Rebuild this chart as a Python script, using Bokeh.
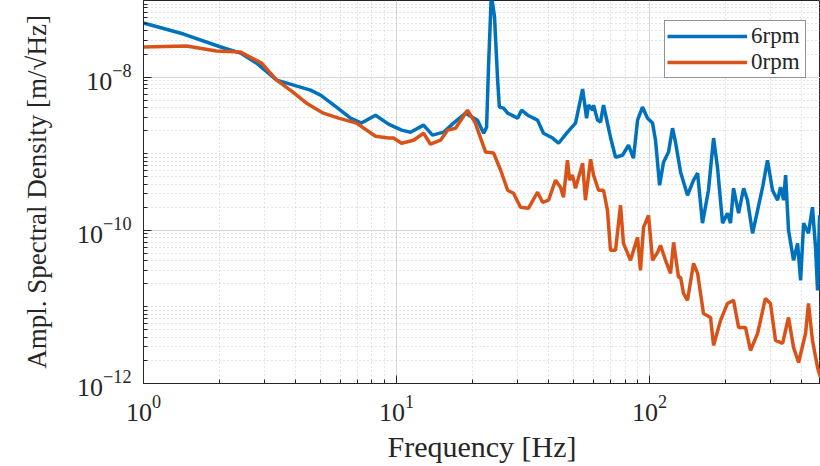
from bokeh.plotting import figure
from bokeh.models import Range1d, FixedTicker, Legend, LegendItem
from bokeh.embed import file_html
from bokeh.resources import INLINE

# ---- data ----
freq_6rpm = [1.0, 1.44, 2.02, 2.42, 2.80, 3.36, 3.92, 4.57, 5.01, 5.79, 6.58, 7.27, 8.26, 9.30,
             10.47, 11.36, 12.79, 13.87, 15.34, 16.80, 18.75, 20.9, 22.1, 22.7, 23.1, 23.7, 24.4,
             25.1, 25.5, 26.5, 27.5, 30.1, 31.2, 33.0, 36.1, 38.1, 41.4, 43.7, 47.4, 51.0, 54.4,
             56.4, 57.4, 59.6, 60.1, 62.3, 64.0, 65.8, 70.1, 73.4, 78.2, 82.6, 86.4, 89.7, 93.8,
             98.2, 102.8, 105.6, 109.6, 113.6, 118.9, 123.3, 126.7, 132.7, 141.3, 149.3, 154.9,
             161.9, 171.0, 179.1, 185.6, 194.4, 203.3, 209.0, 214.8, 224.9, 235.5, 243.9, 255.4,
             267.4, 279.9, 292.6, 306.3, 320.7, 329.6, 338.8, 345.1, 354.3, 370.9, 384.8, 395.5,
             406.5, 424.8, 440.6, 453.0, 461.4, 469.9]
asd_6rpm = [5.08e-8, 3.65e-8, 2.47e-8, 2.06e-8, 1.52e-8, 9.14e-9, 7.86e-9, 6.76e-9, 5.82e-9, 4.06e-9,
            2.91e-9, 2.51e-9, 3.18e-9, 2.43e-9, 2.03e-9, 1.91e-9, 2.36e-9, 1.75e-9, 1.91e-9, 2.51e-9,
            3.38e-9, 2.74e-9, 1.85e-9, 2.22e-9, 1.35e-8, 1.2e-7, 6.08e-8, 9.14e-9, 4.06e-9, 3.94e-9,
            3.38e-9, 2.91e-9, 3.70e-9, 3.18e-9, 2.74e-9, 1.85e-9, 1.60e-9, 1.37e-9, 1.91e-9, 2.51e-9,
            6.97e-9, 2.91e-9, 4.31e-9, 3.70e-9, 4.31e-9, 2.74e-9, 2.58e-9, 4.31e-9, 1.64e-9, 9.0e-10,
            9.55e-10, 1.29e-9, 8.73e-10, 2.74e-9, 4.06e-9, 2.91e-9, 2.51e-9, 1.50e-9, 3.87e-10, 7.74e-10,
            1.05e-9, 2.15e-9, 1.41e-9, 5.73e-10, 2.87e-10, 4.51e-10, 5.56e-10, 1.24e-10, 3.33e-10, 1.60e-9,
            6.67e-10, 1.24e-10, 1.67e-10, 1.24e-10, 3.54e-10, 1.67e-10, 3.54e-10, 2.47e-10, 9.14e-11,
            1.82e-10, 3.65e-10, 8.22e-10, 3.33e-10, 2.47e-10, 3.65e-10, 2.47e-10, 5.24e-10, 1.0e-10,
            4.06e-11, 6.76e-11, 2.22e-11, 1.24e-10, 9.14e-11, 2.0e-10, 6.0e-11, 1.64e-11, 1.57e-10]

freq_0rpm = [1.0, 1.48, 1.94, 2.42, 2.93, 3.36, 3.85, 4.41, 5.14, 5.90, 6.95, 8.26, 9.30, 9.73,
             10.47, 11.68, 12.79, 13.63, 14.93, 15.91, 17.11, 19.09, 20.5, 21.5, 22.5, 24.2, 25.8,
             27.5, 29.0, 30.9, 33.2, 36.1, 37.8, 39.9, 42.5, 44.5, 45.7, 47.4, 48.3, 49.6, 51.0,
             54.4, 55.8, 58.5, 60.1, 62.9, 65.8, 68.2, 70.1, 73.4, 76.8, 78.9, 84.1, 89.7, 92.1,
             94.7, 99.1, 102.8, 107.6, 110.5, 115.7, 121.1, 124.5, 130.2, 132.7, 136.2, 141.3,
             149.3, 154.9, 163.4, 174.2, 179.1, 190.9, 203.3, 214.8, 224.9, 239.5, 250.7, 267.4,
             287.1, 300.6, 314.8, 335.7, 354.3, 370.9, 388.4, 413.8, 424.8, 440.6, 461.4, 474.2]
asd_0rpm = [2.47e-8, 2.54e-8, 2.19e-8, 2.12e-8, 1.52e-8, 9.14e-9, 6.56e-9, 4.57e-9, 3.38e-9, 2.91e-9,
            2.51e-9, 1.69e-9, 1.60e-9, 1.60e-9, 1.37e-9, 1.50e-9, 1.85e-9, 1.33e-9, 1.50e-9, 2.03e-9,
            2.15e-9, 3.70e-9, 2.51e-9, 1.60e-9, 1.05e-9, 1.02e-9, 6.08e-10, 3.33e-10, 3.05e-10, 2.0e-10,
            1.94e-10, 3.14e-10, 2.32e-10, 2.47e-10, 4.51e-10, 3.65e-10, 2.70e-10, 8.22e-10, 4.51e-10,
            5.24e-10, 3.54e-10, 7.52e-10, 2.47e-10, 8.47e-10, 5.24e-10, 3.33e-10, 3.33e-10, 1.82e-10,
            5.48e-11, 5.48e-11, 2.12e-10, 6.76e-11, 4.06e-11, 8.10e-11, 3.0e-11, 1.09e-10, 1.57e-10,
            4.06e-11, 5.15e-11, 6.37e-11, 4.06e-11, 2.74e-11, 6.97e-11, 2.43e-11, 2.43e-11, 1.50e-11,
            1.22e-11, 3.70e-11, 2.74e-11, 8.22e-12, 7.29e-12, 3.14e-12, 6.67e-12, 1.11e-11, 1.22e-11,
            5.40e-12, 5.40e-12, 2.70e-12, 4.51e-12, 1.29e-11, 1.11e-11, 3.65e-12, 3.33e-12, 7.29e-12,
            2.96e-12, 1.88e-12, 4.51e-12, 1.11e-11, 3.65e-12, 1.62e-12, 1.20e-12]

series_labels = ["6rpm", "0rpm"]
x_major = [1, 10, 100]
y_major = [1e-12, 1e-10, 1e-8]
x_minor = [k * 10 ** e for e in range(0, 3) for k in range(2, 10)]
y_minor = [k * 10.0 ** e for e in range(-12, -7) for k in range(1, 10) if not (k == 1 and e % 2 == 0)]

FONT = "Liberation Serif"
BLUE = "#0072BD"
ORANGE = "#D95319"

p = figure(width=820, height=466, x_axis_type="log", y_axis_type="log",
           x_range=Range1d(1, 474), y_range=Range1d(1e-12, 1e-7),
           output_backend="svg", toolbar_location=None,
           min_border_left=143, min_border_right=0, min_border_top=0, min_border_bottom=83,
           background_fill_color="white", border_fill_color="white")
p.outline_line_color = "#262626"
p.outline_line_width = 1

r1 = p.line(freq_6rpm, asd_6rpm, line_color=BLUE, line_width=3.5)
r2 = p.line(freq_0rpm, asd_0rpm, line_color=ORANGE, line_width=3.5)

p.xaxis.ticker = FixedTicker(ticks=x_major, minor_ticks=x_minor)
p.yaxis.ticker = FixedTicker(ticks=y_major, minor_ticks=y_minor)

for ax in (p.xaxis[0], p.yaxis[0]):
    ax.major_tick_in = 8
    ax.major_tick_out = 0
    ax.minor_tick_in = 4
    ax.minor_tick_out = 0
    ax.axis_line_color = "#262626"
    ax.major_tick_line_color = "#262626"
    ax.minor_tick_line_color = "#262626"
    ax.major_label_text_font = FONT
    ax.major_label_text_font_size = "26px"
    ax.major_label_text_color = "#262626"
    ax.major_label_standoff = 12
    ax.axis_label_text_font = FONT
    ax.axis_label_text_font_size = "30px"
    ax.axis_label_text_font_style = "normal"
    ax.axis_label_text_color = "#262626"

p.xaxis.axis_label = "Frequency [Hz]"
p.xaxis.axis_label_standoff = 6
p.yaxis.axis_label = "Ampl. Spectral Density [m/√Hz]"
p.yaxis.axis_label_text_font_size = "27px"
p.yaxis.axis_label_standoff = 22

for g in (p.xgrid[0], p.ygrid[0]):
    g.grid_line_color = "#d6d6d6"
    g.grid_line_width = 1
    g.minor_grid_line_color = "#bdbdbd"
    g.minor_grid_line_alpha = 0.8
    g.minor_grid_line_dash = "1 3"
    g.minor_grid_line_width = 1

legend = Legend(items=[LegendItem(label=series_labels[0], renderers=[r1]),
                       LegendItem(label=series_labels[1], renderers=[r2])],
                location=(521, 305))
legend.margin = 0
legend.padding = 2
legend.spacing = 0
legend.glyph_width = 80
legend.glyph_height = 24
legend.label_height = 24
legend.label_width = 52
legend.label_standoff = 4
legend.label_text_font = FONT
legend.label_text_font_size = "23px"
legend.label_text_color = "#262626"
legend.border_line_color = "#262626"
legend.border_line_width = 1
legend.background_fill_color = "white"
legend.background_fill_alpha = 1
p.add_layout(legend)

open("out.html", "w").write(file_html(p, INLINE))
